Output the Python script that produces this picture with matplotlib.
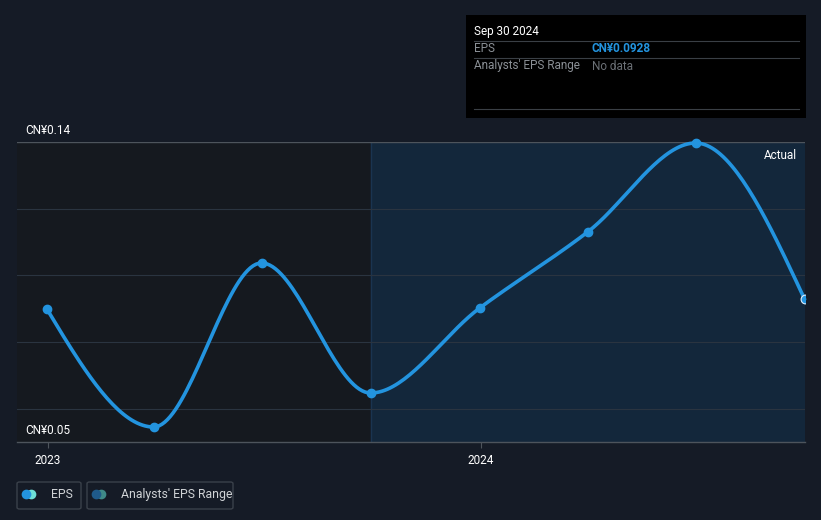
import numpy as np
import matplotlib
matplotlib.use("Agg")
import matplotlib.pyplot as plt
from matplotlib.patches import FancyBboxPatch, Rectangle
import datetime as dt

plt.rcParams['font.family'] = ['Roboto', 'DejaVu Sans']

# ---- data ----
dates = ["2022-12-31", "2023-03-31", "2023-06-30", "2023-09-30",
         "2023-12-31", "2024-03-31", "2024-06-30", "2024-09-30"]
eps = [0.0899, 0.0545, 0.1037, 0.0647, 0.0902, 0.1130, 0.1397, 0.0928]
y_ticks = [0.05, 0.14]
y_tick_labels = ["CN¥0.05", "CN¥0.14"]
x_ticks = ["2023-01-01", "2024-01-01"]
x_tick_labels = ["2023", "2024"]
forecast_start = "2023-09-30"
tooltip_date = "Sep 30 2024"
tooltip_eps = "CN¥0.0928"

BG = "#151b26"
LINE = "#2394df"

def d2n(s):
    return matplotlib.dates.date2num(dt.datetime.strptime(s, "%Y-%m-%d"))

xs = np.array([d2n(d) for d in dates])
ys = np.array(eps)

def monotone(x, y, n=40):
    h = np.diff(x)
    s = np.diff(y) / h
    m = np.zeros(len(x))
    for i in range(1, len(x) - 1):
        if s[i-1] * s[i] <= 0:
            m[i] = 0
        else:
            p = (s[i-1] * h[i] + s[i] * h[i-1]) / (h[i-1] + h[i])
            m[i] = (np.sign(s[i-1]) + np.sign(s[i])) * min(abs(s[i-1]), abs(s[i]), 0.5 * abs(p))
    m[0] = (3 * s[0] - m[1]) / 2
    m[-1] = (3 * s[-1] - m[-2]) / 2
    X, Y = [], []
    for i in range(len(x) - 1):
        t = np.linspace(0, 1, n)
        hh = h[i]
        h00 = 2*t**3 - 3*t**2 + 1
        h10 = t**3 - 2*t**2 + t
        h01 = -2*t**3 + 3*t**2
        h11 = t**3 - t**2
        X.append(x[i] + t*hh)
        Y.append(h00*y[i] + h10*hh*m[i] + h01*y[i+1] + h11*hh*m[i+1])
    return np.concatenate(X), np.concatenate(Y)

W, H = 821, 520
fig = plt.figure(figsize=(W/100, H/100), dpi=100, facecolor=BG)
ax = fig.add_axes([17/W, 1 - 442/H, (805-17)/W, (442-142)/H])
ax.set_facecolor("#15191f")
x_left = d2n("2023-01-01") - 31 / 1.1836
x_right = xs[-1] + 0.3
ax.set_xlim(x_left, x_right)
ax.set_ylim(0.05, 0.14)

fs = d2n(forecast_start)
ax.axvspan(fs, x_right, color="#13273b", zorder=0)
ax.axvline(fs, color="#1a3450", lw=1, zorder=1)

for g in [0.06, 0.08, 0.10, 0.12]:
    ax.axhline(g, color="#2a3440", lw=0.8, zorder=1)
ax.axhline(0.14, color="#4d545c", lw=1, zorder=1)

cx, cy = monotone(xs, ys)
ax.plot(cx, cy, color=LINE, lw=2.6, zorder=3, solid_capstyle="round", clip_on=False)
ax.scatter(xs[:-1], ys[:-1], s=36, color=LINE, zorder=4, clip_on=False)
ax.scatter(xs[-1:], ys[-1:], s=40, color=LINE, edgecolor="#dfefff", lw=0.8, zorder=4, clip_on=True)

for sp in ["top", "right", "left"]:
    ax.spines[sp].set_visible(False)
ax.spines["bottom"].set_color("#4d545c")
ax.spines["bottom"].set_linewidth(1)
ax.set_yticks([])
ax.set_xticks([d2n(d) for d in x_ticks])
ax.set_xticklabels(x_tick_labels, color="white", fontsize=8.5)
ax.tick_params(axis="x", colors="#4d545c", length=4, pad=5, labelcolor="white")

for v, lab in zip(y_ticks, y_tick_labels):
    ax.text((25 - 17) / 788, v + 0.09 * 5 / 300, lab, transform=ax.get_yaxis_transform(),
            color="white", fontsize=8.5, va="bottom", ha="left")

ax.text(0.99, 0.955, "Actual", transform=ax.transAxes, color="white", fontsize=8.5,
        ha="right", va="center")

# tooltip box
fig.patches.append(Rectangle((466/W, 1-118/H), (806-466)/W, (118-15)/H,
                             transform=fig.transFigure, facecolor="black", edgecolor="none", zorder=5))
def fy(p): return 1 - p/H
def fx(p): return p/W
fig.text(fx(474), fy(31), tooltip_date, color="white", fontsize=8.5, va="center", zorder=6)
for yy in [41, 58, 109]:
    fig.add_artist(plt.Line2D([fx(474), fx(799)], [fy(yy), fy(yy)], color="#3a3f45", lw=0.8, zorder=6))
fig.text(fx(474), fy(49), "EPS", color="#8b9096", fontsize=8.5, va="center", zorder=6)
fig.text(fx(592), fy(49), tooltip_eps, color=LINE, fontsize=8.5, va="center", fontweight="bold", zorder=6)
fig.text(fx(474), fy(66), "Analysts' EPS Range", color="#8b9096", fontsize=8.5, va="center", zorder=6)
fig.text(fx(592), fy(66), "No data", color="#6b7076", fontsize=8.5, va="center", zorder=6)

# legend boxes
def legbox(x0, x1, c1, c2, label):
    fig.patches.append(FancyBboxPatch((fx(x0), fy(509)), fx(x1 - x0), (509-482)/H,
                                      boxstyle="round,pad=0,rounding_size=0.003",
                                      transform=fig.transFigure, facecolor="none",
                                      edgecolor="#3a414a", lw=1))
    fig.add_artist(plt.Line2D([fx(x0+14)], [fy(494)], marker="o", markersize=7,
                              color=c2, markeredgewidth=0))
    fig.add_artist(plt.Line2D([fx(x0+9)], [fy(494)], marker="o", markersize=7,
                              color=c1, markeredgewidth=0))
    fig.text(fx(x0+34), fy(494.5), label, color="#d0d3d6", fontsize=8.8, va="center")

legbox(17, 81, "#2394df", "#6ee0d6", "EPS")
legbox(87, 233, "#1f5a8a", "#3f8a88", "Analysts' EPS Range")

fig.savefig("out.png", dpi=100, facecolor=BG)
